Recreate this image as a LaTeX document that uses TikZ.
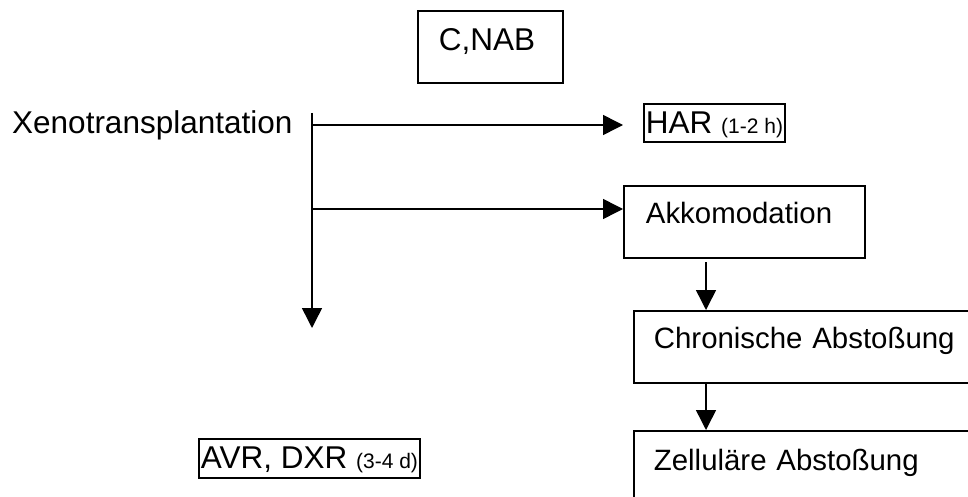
\documentclass[tikz,border=0pt]{standalone}
\usepackage{fontspec}
\setmainfont{Liberation Sans}
\usetikzlibrary{arrows.meta}

\newcommand{\bigtxt}{\fontsize{31.5}{36}\selectfont}
\newcommand{\midtxt}{\fontsize{29.4}{34}\selectfont}
\newcommand{\smalltxt}{\fontsize{21}{24}\selectfont}

\tikzset{
  box/.style={draw, line width=1.8pt, inner ysep=0pt, anchor=north west, align=left},
  flow/.style={line width=1.5pt, -{Triangle[length=20pt,width=20pt]}}
}

\begin{document}
\begin{tikzpicture}[x=1pt, y=-1pt]
  \useasboundingbox (0,0) rectangle (968,497);
  \clip (0,0) rectangle (968,497);
  % boxes
  \node[box, inner xsep=21pt, text width=103pt, text height=40pt, text depth=32pt, font=\bigtxt] (cnab) at (417,10) {C,NAB};
  \node[anchor=base west, inner sep=0pt, font=\bigtxt] (xeno) at (12,134) {Xenotransplantation};
  \node[box, inner xsep=2pt, text height=30pt, text depth=8pt, font=\bigtxt] (har) at (643,103) {HAR {\smalltxt (1-2~h)}};
  \node[box, inner xsep=22pt, text width=197pt, text height=38pt, text depth=34pt, font=\midtxt] (akk) at (623,185) {Akkomodation};
  \node[box, inner xsep=20pt, text width=320pt, text height=38pt, text depth=34pt, font=\midtxt] (chron) at (633,310) {Chronische Abstoßung};
  \node[box, inner xsep=20pt, text width=320pt, text height=40pt, text depth=34pt, font=\midtxt] (zell) at (633,430) {Zelluläre Abstoßung};
  \node[box, inner xsep=2pt, text height=30pt, text depth=9pt, font=\bigtxt] (avr) at (198,438) {AVR, DXR {\smalltxt (3-4~d)}};
  % connectors
  \coordinate (top) at (312,113);
  \coordinate (down) at (312,328);
  \coordinate (split) at (312,125);
  \coordinate (harin) at (623,125);
  \coordinate (branch) at (312,209);
  \coordinate (akkout) at (706,262);
  \draw[flow] (top) -- (down);
  \draw[flow] (split) -- (harin);
  \draw[flow] (branch) -- (branch -| akk.west);
  \draw[flow] (akkout) -- (akkout |- chron.north);
  \draw[flow] (akkout |- chron.south) -- (akkout |- zell.north);
\end{tikzpicture}
\end{document}
